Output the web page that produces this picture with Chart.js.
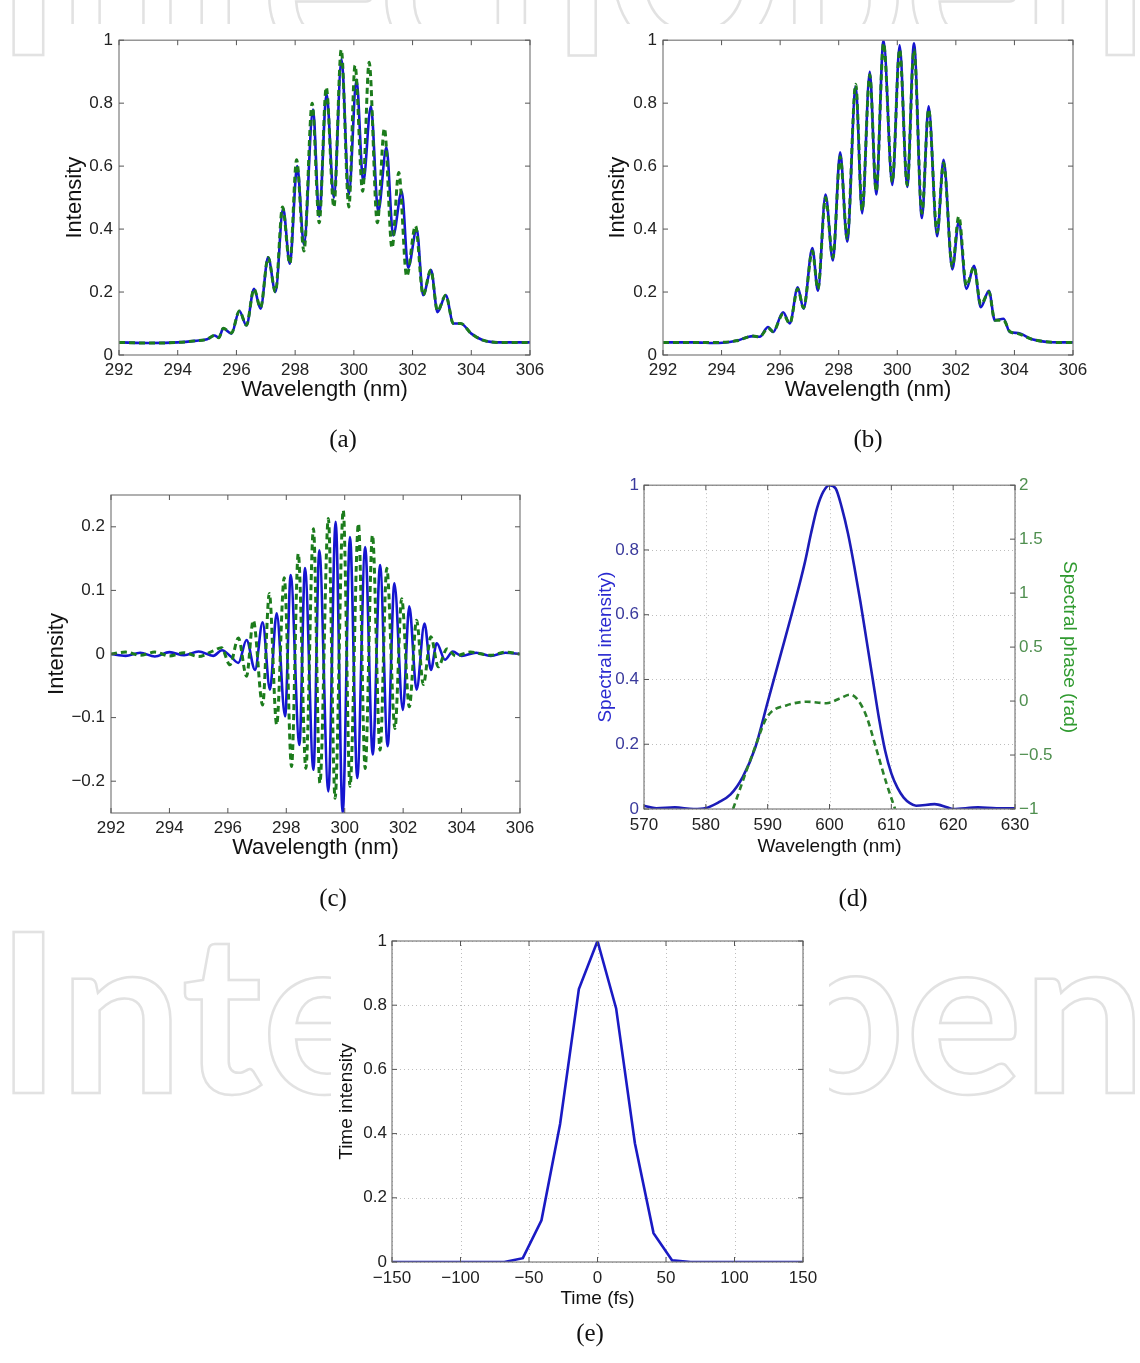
<!DOCTYPE html>
<html>
<head>
<meta charset="utf-8">
<script src="https://cdn.jsdelivr.net/npm/chart.js@4.4.1/dist/chart.umd.min.js"></script>
<style>
  body { margin: 0; background: #fff; width: 1140px; height: 1363px; position: relative; overflow: hidden; }
  canvas { position: absolute; }
  .lab { position: absolute; font-family: 'Liberation Serif', 'Times New Roman', serif; font-size: 25px; color: #111; transform: translate(-50%, -50%); }
</style>
</head>
<body>
<canvas id="wm" width="1140" height="1363" style="left:0;top:0"></canvas>
<canvas id="ca" width="502" height="383" style="left:58px;top:24px"></canvas>
<canvas id="cb" width="502" height="383" style="left:601px;top:24px"></canvas>
<canvas id="cc" width="510" height="387" style="left:40px;top:478px"></canvas>
<canvas id="cd" width="495" height="392" style="left:590px;top:470px"></canvas>
<canvas id="ce" width="498" height="394" style="left:331px;top:920px"></canvas>
<div class="lab" style="left:343px;top:439px">(a)</div>
<div class="lab" style="left:868px;top:439px">(b)</div>
<div class="lab" style="left:333px;top:898px">(c)</div>
<div class="lab" style="left:853px;top:898px">(d)</div>
<div class="lab" style="left:590px;top:1333px">(e)</div>
<script>
// tick labels
const waveTicks = [292, 294, 296, 298, 300, 302, 304, 306];
const intensityTicks = [0, 0.2, 0.4, 0.6, 0.8, 1];
const diffTicks = [-0.2, -0.1, 0, 0.1, 0.2];
const specWaveTicks = [570, 580, 590, 600, 610, 620, 630];
const phaseTicks = [-1, -0.5, 0, 0.5, 1, 1.5, 2];
const timeTicks = [-150, -100, -50, 0, 50, 100, 150];

// (a) measured (blue) and retrieved (green dashed)
const aBlueWl = [292, 293, 294, 294.6, 295.0, 295.25, 295.4, 295.55, 295.83, 296.1, 296.34, 296.6, 296.82, 297.08, 297.33, 297.59, 297.82, 298.07, 298.3, 298.61, 298.82, 299.07, 299.32, 299.58, 299.83, 300.09, 300.32, 300.58, 300.83, 301.11, 301.34, 301.63, 301.85, 302.14, 302.36, 302.63, 302.85, 303.13, 303.39, 303.64, 304.0, 304.4, 305.0, 305.5, 306];
const aBlueVal = [0.040, 0.038, 0.040, 0.045, 0.05, 0.062, 0.055, 0.084, 0.068, 0.14, 0.094, 0.21, 0.147, 0.31, 0.20, 0.466, 0.29, 0.60, 0.35, 0.78, 0.44, 0.83, 0.50, 0.94, 0.51, 0.874, 0.55, 0.79, 0.455, 0.66, 0.38, 0.52, 0.277, 0.40, 0.19, 0.27, 0.136, 0.19, 0.10, 0.10, 0.068, 0.047, 0.04, 0.04, 0.04];
const aGreenWl = [292, 293, 294, 294.6, 295.0, 295.25, 295.4, 295.55, 295.83, 296.1, 296.34, 296.6, 296.82, 297.08, 297.33, 297.57, 297.82, 298.05, 298.3, 298.58, 298.82, 299.06, 299.32, 299.57, 299.83, 300.04, 300.3, 300.52, 300.8, 301.04, 301.3, 301.53, 301.8, 302.1, 302.36, 302.62, 302.85, 303.13, 303.39, 303.64, 304.0, 304.4, 305.0, 305.5, 306];
const aGreenVal = [0.04, 0.038, 0.04, 0.045, 0.05, 0.062, 0.055, 0.085, 0.07, 0.14, 0.095, 0.21, 0.15, 0.31, 0.2, 0.47, 0.29, 0.62, 0.33, 0.80, 0.42, 0.85, 0.47, 0.97, 0.47, 0.92, 0.52, 0.93, 0.42, 0.72, 0.34, 0.58, 0.25, 0.41, 0.19, 0.27, 0.14, 0.19, 0.1, 0.1, 0.068, 0.047, 0.04, 0.04, 0.04];

// (b)
const bWl = [292, 293, 293.9, 294.5, 295.07, 295.3, 295.59, 295.76, 296.1, 296.33, 296.6, 296.8, 297.1, 297.29, 297.55, 297.8, 298.05, 298.29, 298.58, 298.8, 299.06, 299.28, 299.53, 299.83, 300.08, 300.34, 300.57, 300.84, 301.07, 301.36, 301.58, 301.88, 302.1, 302.36, 302.62, 302.85, 303.13, 303.33, 303.63, 303.84, 304.12, 304.6, 305.5, 306];
const bBlueVal = [0.04, 0.04, 0.038, 0.045, 0.06, 0.058, 0.089, 0.073, 0.136, 0.10, 0.215, 0.147, 0.34, 0.204, 0.51, 0.30, 0.644, 0.36, 0.853, 0.45, 0.90, 0.51, 1.0, 0.54, 0.984, 0.534, 0.99, 0.435, 0.79, 0.377, 0.62, 0.272, 0.424, 0.21, 0.283, 0.152, 0.204, 0.11, 0.115, 0.073, 0.07, 0.05, 0.04, 0.04];
const bGreenVal = [0.04, 0.04, 0.04, 0.045, 0.06, 0.058, 0.085, 0.075, 0.13, 0.10, 0.21, 0.15, 0.33, 0.21, 0.50, 0.31, 0.63, 0.37, 0.86, 0.46, 0.89, 0.52, 0.99, 0.55, 0.97, 0.54, 0.97, 0.45, 0.78, 0.39, 0.61, 0.28, 0.44, 0.22, 0.28, 0.16, 0.2, 0.11, 0.11, 0.075, 0.068, 0.05, 0.04, 0.04];

// (c) difference signals
const cBlueWl = [292, 292.5, 293, 293.5, 294, 294.5, 295, 295.5, 295.8, 296.1, 296.36, 296.64, 296.93, 297.19, 297.44, 297.67, 297.96, 298.15, 298.45, 298.64, 298.93, 299.13, 299.44, 299.69, 299.93, 300.18, 300.43, 300.7, 300.96, 301.21, 301.47, 301.7, 301.99, 302.21, 302.46, 302.73, 302.95, 303.15, 303.43, 303.7, 304, 304.5, 305, 305.5, 306];
const cBlueVal = [0, -0.003, 0.002, -0.004, 0.003, -0.002, 0.004, -0.003, 0.006, -0.004, -0.014, 0.022, -0.025, 0.05, -0.056, 0.064, -0.098, 0.124, -0.143, 0.135, -0.182, 0.163, -0.216, 0.208, -0.25, 0.184, -0.195, 0.168, -0.158, 0.14, -0.145, 0.111, -0.088, 0.075, -0.056, 0.048, -0.025, 0.017, -0.009, 0.004, -0.003, 0.002, -0.003, 0.002, 0];
const cGreenWl = [292, 292.5, 293, 293.5, 294, 294.5, 295, 295.5, 295.78, 296.07, 296.36, 296.64, 296.87, 297.19, 297.42, 297.67, 297.93, 298.18, 298.41, 298.67, 298.93, 299.15, 299.44, 299.67, 299.95, 300.18, 300.47, 300.7, 300.95, 301.21, 301.44, 301.72, 301.95, 302.21, 302.46, 302.69, 302.95, 303.2, 303.5, 303.8, 304.3, 305, 305.5, 306];
const cGreenVal = [0, 0.003, -0.002, 0.003, -0.003, 0.002, -0.004, 0.005, 0.01, -0.017, 0.025, -0.035, 0.053, -0.08, 0.095, -0.111, 0.12, -0.177, 0.158, -0.18, 0.197, -0.203, 0.213, -0.227, 0.226, -0.208, 0.205, -0.18, 0.187, -0.151, 0.135, -0.117, 0.087, -0.083, 0.053, -0.048, 0.027, -0.02, 0.008, -0.003, 0.003, -0.002, 0.003, 0];

// (d) fundamental spectrum and phase
const dWl = [570, 572, 575, 578, 580, 582, 584, 586, 588, 590, 592, 594, 596, 597, 598, 599, 600, 601, 602, 603, 604, 605, 606, 607, 608, 609, 610, 611, 612, 613, 614, 617, 619, 620, 624, 627, 630];
const dIntensity = [0.01, 0.002, 0.005, 0.0, 0.003, 0.02, 0.045, 0.10, 0.19, 0.33, 0.47, 0.61, 0.76, 0.85, 0.93, 0.98, 1.0, 0.99, 0.93, 0.85, 0.75, 0.64, 0.52, 0.40, 0.28, 0.18, 0.11, 0.065, 0.035, 0.018, 0.01, 0.015, 0.005, 0.0, 0.005, 0.002, 0.002];
const dPhaseWl = [584.4, 586.6, 588.2, 589.5, 590.6, 593, 596.3, 599.5, 601.7, 603.3, 604.6, 606, 607.6, 609.2, 610.6];
const dPhase = [-1, -0.64, -0.39, -0.19, -0.1, -0.04, -0.006, -0.02, 0.025, 0.06, 0.01, -0.145, -0.45, -0.76, -1];

// (e) temporal profile
const eTime = [-150, -68, -54.5, -40.9, -27.3, -13.6, 0, 13.6, 27.3, 40.9, 54.5, 68, 150];
const eIntensity = [0, 0, 0.012, 0.13, 0.43, 0.85, 1.0, 0.79, 0.37, 0.09, 0.005, 0, 0];

const FONT = "'Liberation Sans', Arial, sans-serif";
const BLUE = '#1515d0';
const GREEN = '#1c7c1c';

const pts = (xs, ys) => xs.map((x, i) => ({x: x, y: ys[i]}));
const fmt = v => String(+(+v).toFixed(2)).replace('-', '\u2212');

// background watermark
const wm = document.getElementById('wm').getContext('2d');
wm.font = "bold 222px Lato";
const wmW = wm.measureText('IntechOpen').width;
[55, 1093].forEach(base => {
  wm.save();
  wm.translate(-4, base);
  wm.scale(1150 / wmW, 1);
  wm.strokeStyle = '#e2e2e2';
  wm.lineWidth = 2.5;
  wm.strokeText('IntechOpen', 0, 0);
  wm.restore();
});

// MATLAB-like frame: white bg, dotted grid, box, inward ticks
const frame = {
  id: 'frame',
  beforeDraw(c) {
    c.ctx.save();
    c.ctx.fillStyle = '#fff';
    c.ctx.fillRect(0, 0, c.width, c.height);
    c.ctx.restore();
  },
  beforeDatasetsDraw(c, args, o) {
    if (!o.grid) return;
    const ctx = c.ctx, a = c.chartArea;
    ctx.save();
    ctx.strokeStyle = '#bdbdbd';
    ctx.lineWidth = 1;
    ctx.setLineDash([1, 3]);
    c.scales.x.ticks.forEach(t => {
      const p = Math.round(c.scales.x.getPixelForValue(t.value)) + 0.5;
      ctx.beginPath(); ctx.moveTo(p, a.top); ctx.lineTo(p, a.bottom); ctx.stroke();
    });
    c.scales.y.ticks.forEach(t => {
      const p = Math.round(c.scales.y.getPixelForValue(t.value)) + 0.5;
      ctx.beginPath(); ctx.moveTo(a.left, p); ctx.lineTo(a.right, p); ctx.stroke();
    });
    ctx.restore();
  },
  afterDraw(c, args, o) {
    const ctx = c.ctx, a = c.chartArea, L = 5;
    ctx.save();
    ctx.strokeStyle = '#7c7c7c';
    ctx.lineWidth = 1.2;
    ctx.strokeRect(a.left, a.top, a.right - a.left, a.bottom - a.top);
    ctx.strokeStyle = '#555';
    ctx.lineWidth = 1;
    const line = (x1, y1, x2, y2) => { ctx.beginPath(); ctx.moveTo(x1, y1); ctx.lineTo(x2, y2); ctx.stroke(); };
    c.scales.x.ticks.forEach(t => {
      const p = c.scales.x.getPixelForValue(t.value);
      line(p, a.bottom, p, a.bottom - L);
      line(p, a.top, p, a.top + L);
    });
    c.scales.y.ticks.forEach(t => {
      const p = c.scales.y.getPixelForValue(t.value);
      line(a.left, p, a.left + L, p);
      if (!c.scales.y2) line(a.right, p, a.right - L, p);
    });
    if (c.scales.y2) {
      c.scales.y2.ticks.forEach(t => {
        const p = c.scales.y2.getPixelForValue(t.value);
        line(a.right, p, a.right - L, p);
      });
    }
    ctx.restore();
  }
};

function axis(min, max, tickVals, o) {
  return {
    type: 'linear', min: min, max: max, position: o.position,
    grid: {display: false, drawTicks: false},
    border: {display: false},
    afterBuildTicks: s => { s.ticks = tickVals.map(v => ({value: v})); },
    afterFit: s => { if (s.isHorizontal()) s.height = o.size; else s.width = o.size; },
    ticks: {
      font: {family: FONT, size: o.tickSize || 17},
      color: o.tickColor || '#222',
      padding: o.pad || 5,
      autoSkip: false, maxRotation: 0,
      callback: v => fmt(v)
    },
    title: {
      display: true, text: o.title,
      font: {family: FONT, size: o.titleSize || 22},
      color: o.titleColor || '#111',
      padding: {top: 4, bottom: 4}
    }
  };
}

function line(data, color, dashed, extra) {
  return Object.assign({
    data: data, borderColor: color, borderWidth: dashed ? 3 : 2.6,
    borderDash: dashed ? [6, 4] : [], pointRadius: 0, fill: false,
    cubicInterpolationMode: 'monotone', order: dashed ? 0 : 1
  }, extra || {});
}

function panel(id, datasets, scales, pad, grid) {
  new Chart(document.getElementById(id), {
    type: 'line',
    data: {datasets: datasets},
    options: {
      responsive: false, animation: false,
      layout: {padding: pad},
      plugins: {legend: {display: false}, tooltip: {enabled: false}, frame: {grid: grid}},
      scales: scales
    },
    plugins: [frame]
  });
}

// (a)
panel('ca', [
  line(pts(aBlueWl, aBlueVal), BLUE, false),
  line(pts(aGreenWl, aGreenVal), GREEN, true)
], {
  x: axis(292, 306, waveTicks, {position: 'bottom', size: 52, pad: 5, title: 'Wavelength (nm)'}),
  y: axis(0, 1, intensityTicks, {position: 'left', size: 61, pad: 6, title: 'Intensity'})
}, {left: 0, right: 30, top: 13, bottom: 0}, false);

// (b)
panel('cb', [
  line(pts(bWl, bBlueVal), BLUE, false),
  line(pts(bWl, bGreenVal), GREEN, true)
], {
  x: axis(292, 306, waveTicks, {position: 'bottom', size: 52, pad: 5, title: 'Wavelength (nm)'}),
  y: axis(0, 1, intensityTicks, {position: 'left', size: 62, pad: 6, title: 'Intensity'})
}, {left: 0, right: 30, top: 13, bottom: 0}, false);

// (c)
panel('cc', [
  line(pts(cBlueWl, cBlueVal), BLUE, false),
  line(pts(cGreenWl, cGreenVal), GREEN, true)
], {
  x: axis(292, 306, waveTicks, {position: 'bottom', size: 52, pad: 5, title: 'Wavelength (nm)'}),
  y: axis(-0.25, 0.25, diffTicks, {position: 'left', size: 71, pad: 6, title: 'Intensity'})
}, {left: 0, right: 30, top: 17, bottom: 0}, false);

// (d)
panel('cd', [
  line(pts(dWl, dIntensity), '#1c1cb8', false, {yAxisID: 'y'}),
  line(pts(dPhaseWl, dPhase), '#2a802a', true, {yAxisID: 'y2', borderWidth: 2.6})
], {
  x: axis(570, 630, specWaveTicks, {position: 'bottom', size: 53, pad: 6, title: 'Wavelength (nm)', titleSize: 19}),
  y: axis(0, 1, intensityTicks, {position: 'left', size: 54, pad: 5, title: 'Spectral intensity)', titleSize: 19, tickColor: '#3a3a9c', titleColor: '#2a2ad0'}),
  y2: axis(-1, 2, phaseTicks, {position: 'right', size: 70, pad: 4, title: 'Spectral phase (rad)', titleSize: 19, tickColor: '#4f8f4f', titleColor: '#2f9a2f'})
}, {left: 0, right: 0, top: 15, bottom: 0}, true);

// (e)
panel('ce', [
  line(pts(eTime, eIntensity), '#1a1ac4', false, {cubicInterpolationMode: 'default', tension: 0})
], {
  x: axis(-150, 150, timeTicks, {position: 'bottom', size: 52, pad: 6, title: 'Time (fs)', titleSize: 19}),
  y: axis(0, 1, intensityTicks, {position: 'left', size: 61, pad: 5, title: 'Time intensity', titleSize: 19})
}, {left: 0, right: 26, top: 21, bottom: 0}, true);
</script>
</body>
</html>
